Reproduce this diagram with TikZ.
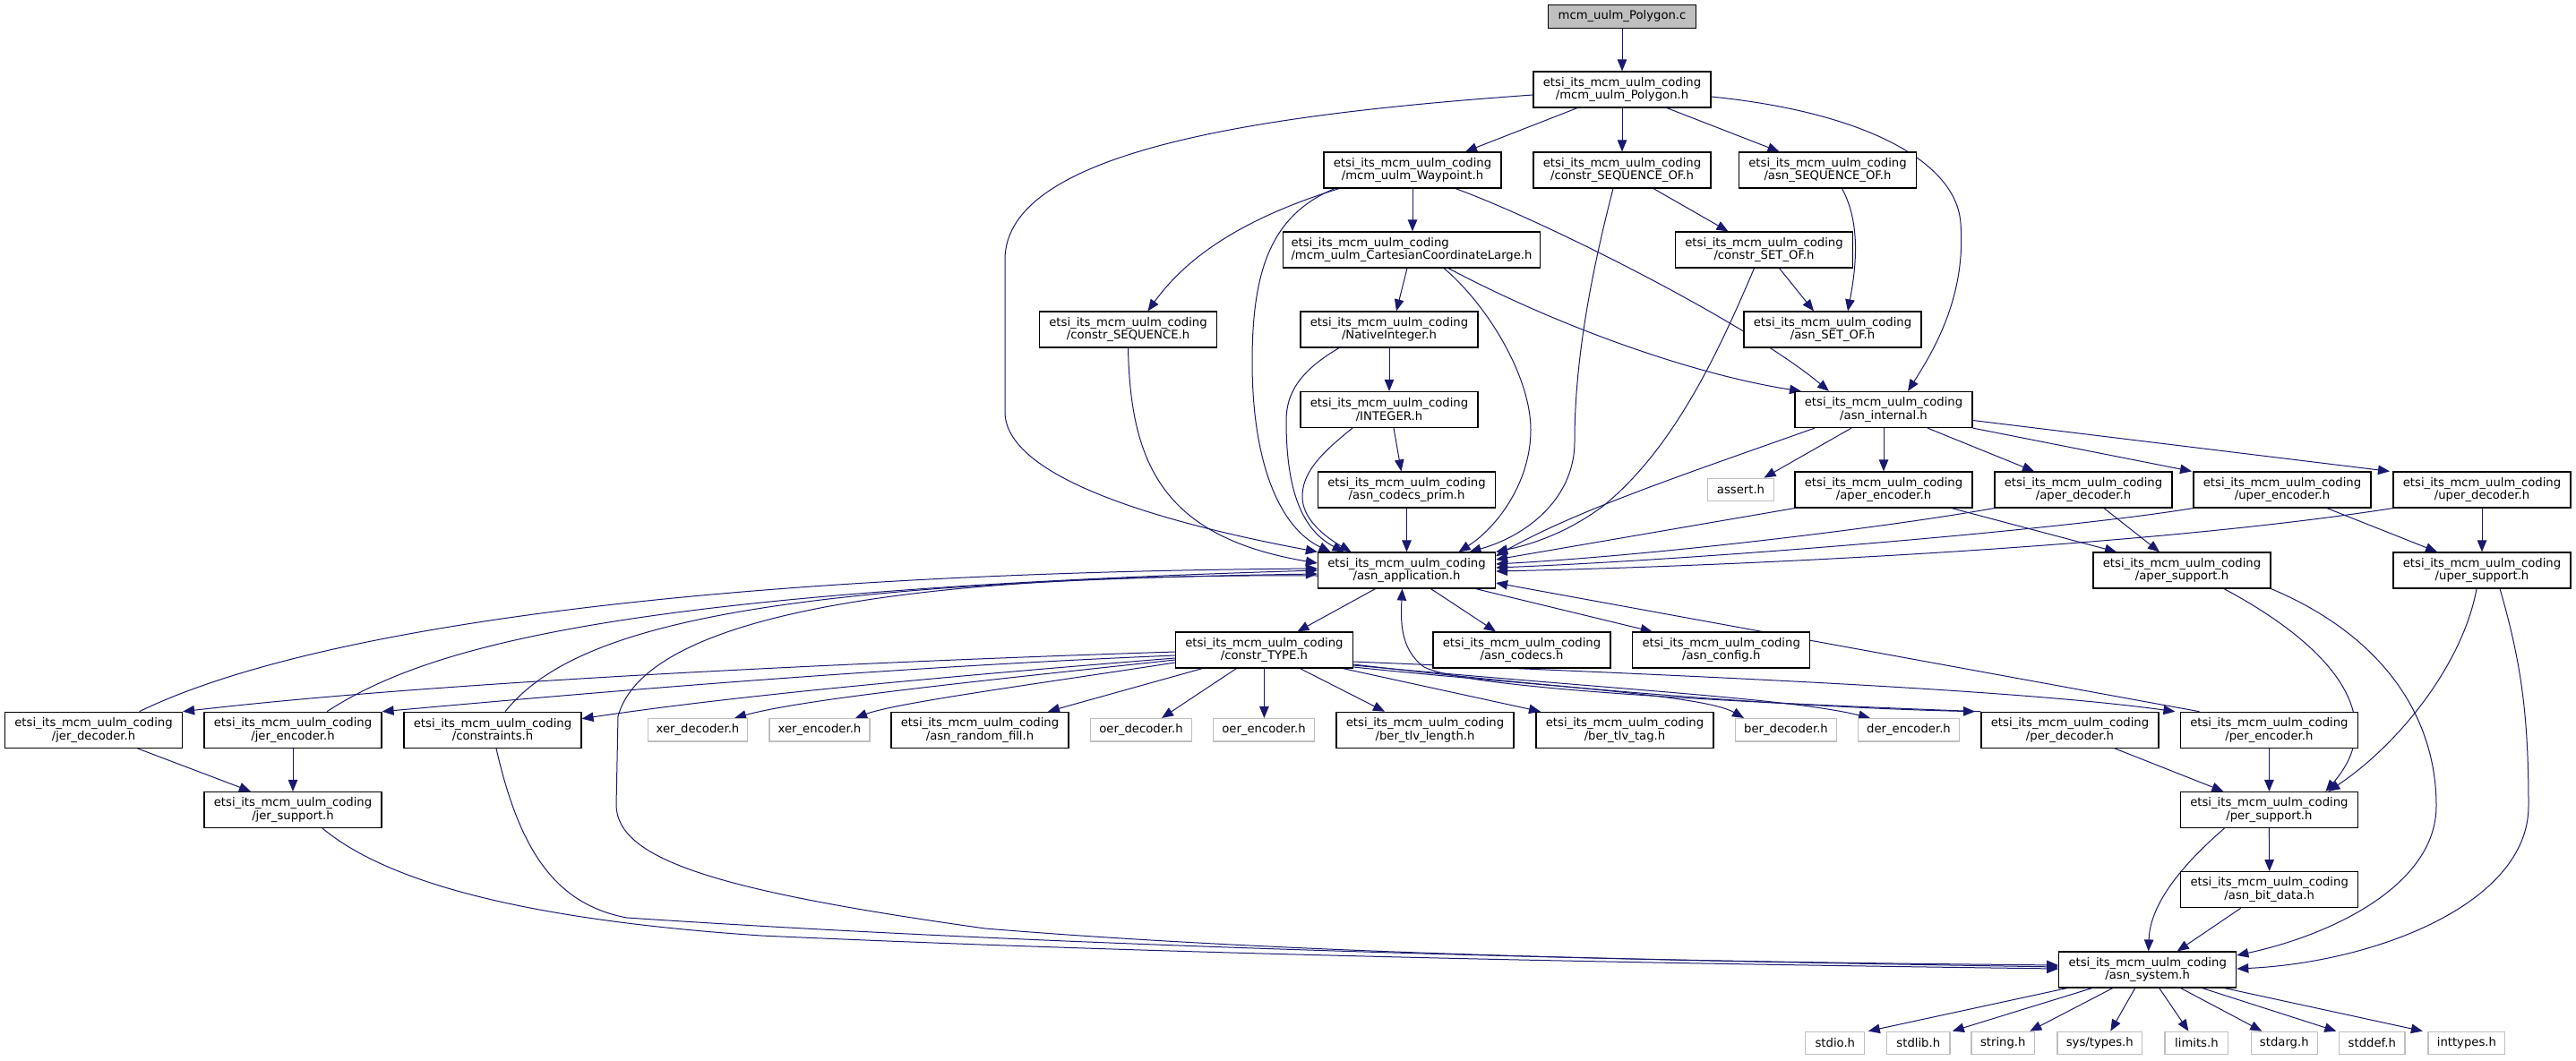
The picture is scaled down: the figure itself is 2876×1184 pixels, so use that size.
\documentclass[tikz,border=0pt]{standalone}
\usepackage{fontspec}
\setmainfont{DejaVu Sans}
\usetikzlibrary{arrows.meta}
\definecolor{edgec}{HTML}{191970}
\definecolor{sysgray}{HTML}{BFBFBF}
\definecolor{topfill}{HTML}{BFBFBF}
\newcommand\dgfont{\fontsize{13.2pt}{14.5pt}\selectfont}
\pgfdeclarelayer{bg}\pgfsetlayers{bg,main}
\tikzset{
  hdr/.style={draw=black, line width=1.2pt, fill=white, minimum width=198pt, minimum height=40pt, inner sep=0pt, align=center, font=\dgfont},
  sys/.style={draw=sysgray, line width=1.2pt, fill=white, minimum height=25.5pt, inner sep=0pt, font=\dgfont},
  dep/.style={draw=edgec, line width=1pt, -{Triangle[length=13pt,width=10.5pt]}},
}
\begin{document}
\begin{tikzpicture}[x=1pt,y=-1pt]
\begin{pgfonlayer}{bg}
\fill[white] (0,0) rectangle (2876,1184);
\end{pgfonlayer}
\useasboundingbox (0,0) rectangle (2876,1184);
\def\pre{etsi\_its\_mcm\_uulm\_coding\\}
% nodes
\node[hdr, fill=topfill, minimum width=165pt, minimum height=26pt] (pc) at (1811,18.5) {mcm\_uulm\_Polygon.c};
\node[hdr] (ph) at (1811,100) {\pre/mcm\_uulm\_Polygon.h};
\node[hdr] (wp) at (1577,190) {\pre/mcm\_uulm\_Waypoint.h};
\node[hdr] (cso) at (1811,190) {\pre/constr\_SEQUENCE\_OF.h};
\node[hdr] (aso) at (2040.5,190) {\pre/asn\_SEQUENCE\_OF.h};
\node[hdr, minimum width=287pt, align=left] (ccl) at (1576,279) {etsi\_its\_mcm\_uulm\_coding\\/mcm\_uulm\_CartesianCoordinateLarge.h};
\node[hdr] (csetof) at (1969.5,279) {\pre/constr\_SET\_OF.h};
\node[hdr] (cseq) at (1259.5,368) {\pre/constr\_SEQUENCE.h};
\node[hdr] (ni) at (1551,368) {\pre/NativeInteger.h};
\node[hdr] (asetof) at (2046,368) {\pre/asn\_SET\_OF.h};
\node[hdr] (intg) at (1551,457.5) {\pre/INTEGER.h};
\node[hdr] (ai) at (2103,457.5) {\pre/asn\_internal.h};
\node[hdr] (acp) at (1570.5,547) {\pre/asn\_codecs\_prim.h};
\node[sys, minimum width=74.5pt] (assert) at (1943.5,547) {assert.h};
\node[hdr] (aenc) at (2103,547) {\pre/aper\_encoder.h};
\node[hdr] (adec) at (2326,547) {\pre/aper\_decoder.h};
\node[hdr] (uenc) at (2548,547) {\pre/uper\_encoder.h};
\node[hdr] (udec) at (2771,547) {\pre/uper\_decoder.h};
\node[hdr] (aa) at (1570.5,637) {\pre/asn\_application.h};
\node[hdr] (asup) at (2436,637) {\pre/aper\_support.h};
\node[hdr] (usup) at (2771,637) {\pre/uper\_support.h};
\node[hdr] (ct) at (1411.4,726) {\pre/constr\_TYPE.h};
\node[hdr] (acod) at (1699,726) {\pre/asn\_codecs.h};
\node[hdr] (acfg) at (1921.7,726) {\pre/asn\_config.h};
\node[hdr] (jd) at (104.5,815.3) {\pre/jer\_decoder.h};
\node[hdr] (je) at (327,815.3) {\pre/jer\_encoder.h};
\node[hdr] (cons) at (550,815.3) {\pre/constraints.h};
\node[sys, minimum width=111.5pt] (xd) at (779,815.3) {xer\_decoder.h};
\node[sys, minimum width=112pt] (xe) at (915,815.3) {xer\_encoder.h};
\node[hdr] (arf) at (1094,815.3) {\pre/asn\_random\_fill.h};
\node[sys, minimum width=113pt] (od) at (1274,815.3) {oer\_decoder.h};
\node[sys, minimum width=113pt] (oe) at (1411,815.3) {oer\_encoder.h};
\node[hdr] (btl) at (1591,815.3) {\pre/ber\_tlv\_length.h};
\node[hdr] (btt) at (1814,815.3) {\pre/ber\_tlv\_tag.h};
\node[sys, minimum width=112.6pt] (bd) at (1994,815.3) {ber\_decoder.h};
\node[sys, minimum width=113.5pt] (de) at (2131,815.3) {der\_encoder.h};
\node[hdr] (pd) at (2311,815.3) {\pre/per\_decoder.h};
\node[hdr] (pe) at (2533.4,815.3) {\pre/per\_encoder.h};
\node[hdr] (js) at (327,904.5) {\pre/jer\_support.h};
\node[hdr] (ps) at (2533.4,904.5) {\pre/per\_support.h};
\node[hdr] (abd) at (2533.7,993.7) {\pre/asn\_bit\_data.h};
\node[hdr] (as) at (2397.7,1083) {\pre/asn\_system.h};
\node[sys, minimum width=66pt] (stdio) at (2048.8,1165) {stdio.h};
\node[sys, minimum width=70.5pt] (stdlib) at (2141.8,1165) {stdlib.h};
\node[sys, minimum width=70.6pt] (string) at (2236.3,1165) {string.h};
\node[sys, minimum width=94.7pt] (systypes) at (2344.3,1165) {sys/types.h};
\node[sys, minimum width=70.7pt] (limits) at (2452.4,1165) {limits.h};
\node[sys, minimum width=74.3pt] (stdarg) at (2550.3,1165) {stdarg.h};
\node[sys, minimum width=73.5pt] (stddef) at (2648.3,1165) {stddef.h};
\node[sys, minimum width=85.8pt] (inttypes) at (2753.9,1165) {inttypes.h};
% edges
\begin{pgfonlayer}{bg}
\draw[dep] (pc.south) -- (ph.north);
\draw[dep] ([yshift=-6pt]ph.west) .. controls (1400,128) and (1122,170) .. (1122,290) -- (1122,460) .. controls (1122,540) and (1330,590) .. (aa.north west);
\draw[dep] ([xshift=-50pt]ph.south) -- ([xshift=59pt]wp.north);
\draw[dep] (ph.south) -- (cso.north);
\draw[dep] ([xshift=50pt]ph.south) -- ([xshift=-54pt]aso.north);
\draw[dep] ([yshift=-8pt]ph.east) .. controls (2080,125) and (2185,180) .. (2189,250) .. controls (2195,330) and (2160,390) .. ([xshift=27pt]ai.north);
\draw[dep] ([xshift=-82pt]wp.south) .. controls (1400,240) and (1330,280) .. ([xshift=22pt]cseq.north);
\draw[dep] ([xshift=-87pt]wp.south) .. controls (1420,240) and (1398,300) .. (1398,404) .. controls (1398,520) and (1430,590) .. ([xshift=-85pt]aa.north);
\draw[dep] (wp.south) -- (wp.south |- ccl.north);
\draw[dep] ([xshift=48pt]wp.south) .. controls (1720,245) and (1950,360) .. ([xshift=-61pt]ai.north);
\draw[dep] ([xshift=-5pt]ccl.south) -- ([xshift=8pt]ni.north);
\draw[dep] ([xshift=36pt]ccl.south) .. controls (1660,340) and (1709,420) .. (1709,480) .. controls (1709,540) and (1670,590) .. ([xshift=58pt]aa.north);
\draw[dep] ([xshift=41pt]ccl.south) .. controls (1750,370) and (1900,420) .. ([xshift=-92pt]ai.north);
\draw[dep] ([xshift=-10pt]cso.south) .. controls (1770,330) and (1758,420) .. (1758,493) .. controls (1758,560) and (1700,600) .. ([xshift=70pt]aa.north);
\draw[dep] ([xshift=35pt]cso.south) -- ([xshift=-40pt]csetof.north);
\draw[dep] ([xshift=16pt]aso.south) .. controls (2078,250) and (2072,300) .. ([xshift=17pt]asetof.north);
\draw[dep] ([xshift=17pt]csetof.south) -- ([xshift=-21pt]asetof.north);
\draw[dep] ([xshift=-11pt]csetof.south) .. controls (1920,390) and (1870,500) .. (1790,565) .. controls (1750,595) and (1710,608) .. (aa.north east);
\draw[dep] (ni.south) -- (intg.north);
\draw[dep] ([xshift=-56pt]ni.south) .. controls (1450,415) and (1436,440) .. (1436,470) .. controls (1436,540) and (1450,590) .. ([xshift=-70pt]aa.north);
\draw[dep] ([xshift=5pt]intg.south) -- ([xshift=-6pt]acp.north);
\draw[dep] ([xshift=-41pt]intg.south) .. controls (1470,510) and (1454,530) .. (1454,555) .. controls (1454,580) and (1480,600) .. ([xshift=-62pt]aa.north);
\draw[dep] (acp.south) -- (aa.north);
\draw[dep] ([xshift=-77pt]ai.south) .. controls (1880,530) and (1760,570) .. ([yshift=16pt]aa.east);
\draw[dep] ([xshift=-36pt]ai.south) -- ([xshift=26pt]assert.north);
\draw[dep] (ai.south) -- (aenc.north);
\draw[dep] ([xshift=49pt]ai.south) -- ([xshift=-55pt]adec.north);
\draw[dep] (ai.south east) -- ([xshift=-101pt]uenc.north);
\draw[dep] ([yshift=-12pt]ai.east) -- ([xshift=-103pt]udec.north);
\draw[dep] (aenc.south west) -- ([yshift=12pt]aa.east);
\draw[dep] ([xshift=76pt]aenc.south) -- ([xshift=-73pt]asup.north);
\draw[dep] (adec.south west) .. controls (2100,590) and (1850,620) .. ([yshift=7pt]aa.east);
\draw[dep] ([xshift=23pt]adec.south) -- ([xshift=-25pt]asup.north);
\draw[dep] (uenc.south west) .. controls (2300,592) and (1900,625) .. ([yshift=3pt]aa.east);
\draw[dep] ([xshift=50pt]uenc.south) -- ([xshift=-50pt]usup.north);
\draw[dep] (udec.south west) .. controls (2400,610) and (1950,632) .. ([yshift=-1pt]aa.east);
\draw[dep] (udec.south) -- (usup.north);
\draw[dep] ([xshift=47pt]asup.south) .. controls (2600,720) and (2670,800) .. ([xshift=63pt]ps.north);
\draw[dep] (asup.south east) .. controls (2660,710) and (2720,800) .. (2720,900) .. controls (2720,990) and (2600,1045) .. ([yshift=16pt]as.east);
\draw[dep] ([xshift=-6pt]usup.south) .. controls (2750,740) and (2680,830) .. ([xshift=66pt]ps.north);
\draw[dep] ([xshift=20pt]usup.south) .. controls (2815,740) and (2823,800) .. (2823,900) .. controls (2823,1010) and (2650,1075) .. ([yshift=1pt]as.east);
\draw[dep] ([xshift=50pt]pd.south) -- ([xshift=-51pt]ps.north);
\draw[dep] (pe.south) -- (ps.north);
\draw[dep] ([xshift=-78pt]pe.north) -- ([yshift=-14pt]aa.east);
\draw[dep] (pd.north west) .. controls (1950,785) and (1640,770) .. (1590,745) .. controls (1562,725) and (1564,690) .. ([xshift=-5pt]aa.south);
\draw[dep] (ps.south) -- (abd.north);
\draw[dep] ([xshift=-50pt]ps.south) .. controls (2420,980) and (2400,1020) .. ([xshift=1pt]as.north);
\draw[dep] ([xshift=-32pt]abd.south) -- ([xshift=33pt]as.north);
\draw[dep] ([xshift=-35pt]aa.south) -- ([xshift=37pt]ct.north);
\draw[dep] ([xshift=27pt]aa.south) -- ([xshift=-29pt]acod.north);
\draw[dep] ([xshift=77pt]aa.south) -- ([xshift=-77pt]acfg.north);
\draw[dep] ([yshift=-6pt]aa.west) .. controls (1000,640) and (720,690) .. (690,800) -- (688,900) .. controls (690,960) and (800,995) .. (1100,1037) .. controls (1500,1070) and (2000,1075) .. ([yshift=5pt]as.west);
\draw[dep] ([yshift=-2pt]ct.west) .. controls (1000,738) and (500,760) .. (jd.north east);
\draw[dep] ([yshift=-6pt]ct.west) .. controls (1000,745) and (700,770) .. (je.north east);
\draw[dep] ([yshift=-9pt]ct.west) .. controls (1000,760) and (800,780) .. ([yshift=-8pt]cons.north east);
\draw[dep] ([yshift=-11pt]ct.west) .. controls (1100,760) and (900,780) .. ([xshift=41pt]xd.north);
\draw[dep] ([yshift=-14pt]ct.west) .. controls (1150,765) and (1000,785) .. ([xshift=40pt]xe.north);
\draw[dep] ([xshift=-69pt]ct.south) -- ([xshift=76pt]arf.north);
\draw[dep] ([xshift=-31pt]ct.south) -- ([xshift=23pt]od.north);
\draw[dep] (ct.south) -- (ct.south |- oe.north);
\draw[dep] ([xshift=40pt]ct.south) -- ([xshift=-45pt]btl.north);
\draw[dep] ([xshift=88pt]ct.south) -- ([xshift=-94pt]btt.north);
\draw[dep] ([yshift=-19pt]ct.east) .. controls (1700,765) and (1900,775) .. ([xshift=-47pt]bd.north);
\draw[dep] ([yshift=-17pt]ct.east) .. controls (1800,770) and (2000,780) .. ([xshift=-43pt]de.north);
\draw[dep] ([yshift=-16pt]ct.east) .. controls (1750,770) and (2000,790) .. ([xshift=-106pt]pd.north);
\draw[dep] ([yshift=-13pt]ct.east) .. controls (1900,755) and (2250,770) .. ([xshift=-105pt]pe.north);
\draw[dep] ([xshift=51pt]jd.north) .. controls (350,700) and (800,640) .. ([yshift=2pt]aa.west);
\draw[dep] ([xshift=38pt]je.north) .. controls (480,720) and (700,660) .. (aa.west);
\draw[dep] ([xshift=14pt]cons.north) .. controls (640,700) and (850,650) .. ([yshift=-4pt]aa.west);
\draw[dep] (cseq.south) .. controls (1262,520) and (1300,600) .. ([yshift=8pt]aa.west);
\draw[dep] ([xshift=49pt]jd.south) -- ([xshift=-47pt]js.north);
\draw[dep] (je.south) -- (js.north);
\draw[dep] ([xshift=33pt]js.south) .. controls (420,975) and (550,1025) .. (850,1045) .. controls (1400,1070) and (2000,1078) .. ([yshift=1pt]as.west);
\draw[dep] ([xshift=4pt]cons.south) .. controls (580,950) and (620,1010) .. (700,1025) .. controls (1300,1065) and (2000,1075) .. ([yshift=3pt]as.west);
\draw[dep] ([xshift=-90pt]as.south) -- ([xshift=37pt]stdio.north);
\draw[dep] ([xshift=-62pt]as.south) -- ([xshift=38pt]stdlib.north);
\draw[dep] ([xshift=-39pt]as.south) -- ([xshift=30pt]string.north);
\draw[dep] ([xshift=-14pt]as.south) -- ([xshift=12pt]systypes.north);
\draw[dep] ([xshift=13pt]as.south) -- ([xshift=-9pt]limits.north);
\draw[dep] ([xshift=37pt]as.south) -- ([xshift=-25pt]stdarg.north);
\draw[dep] ([xshift=61pt]as.south) -- ([xshift=-40pt]stddef.north);
\draw[dep] ([xshift=86pt]as.south) -- ([xshift=-49pt]inttypes.north);
\end{pgfonlayer}
\end{tikzpicture}
\end{document}
